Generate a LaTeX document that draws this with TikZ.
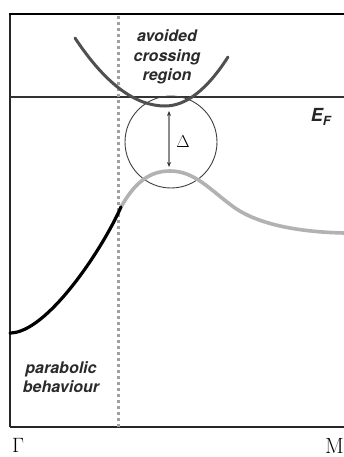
\documentclass[tikz,border=0pt]{standalone}
\usepackage{fontspec}
\setsansfont{TeX Gyre Heros}
\usetikzlibrary{arrows.meta}
\definecolor{darkband}{HTML}{505050}
\definecolor{lightband}{HTML}{B2B2B2}
\definecolor{dotgray}{HTML}{A0A0A0}
\definecolor{labelgray}{HTML}{2A2A2A}
\tikzset{
  frameline/.style={draw=black!85, line width=1.3pt},
  bandup/.style={draw=darkband, line width=3pt, line cap=round},
  banddown/.style={draw=lightband, line width=3.6pt, line cap=round},
  bandpara/.style={draw=black, line width=3.2pt, line cap=round},
  dotline/.style={draw=dotgray, line width=3pt, dash pattern=on 3pt off 3pt},
  lbl/.style={font=\sffamily\bfseries\itshape\fontsize{16}{19.5}\selectfont, text=labelgray, align=center, inner sep=0pt},
  symb/.style={font=\fontsize{22}{22}\selectfont, inner sep=0pt}
}
\begin{document}
\begin{tikzpicture}[x=1pt,y=-1pt]
\useasboundingbox (0,0) rectangle (344,457);
\fill[white] (0,0) rectangle (344,457);
% named coordinates
\coordinate (tl) at (10,14);
\coordinate (tr) at (344,14);
\coordinate (bl) at (10,427);
\coordinate (br) at (344,427);
\coordinate (efl) at (10,97);
\coordinate (efr) at (344,97);
\coordinate (dtop) at (118,16);
\coordinate (dbot) at (118,427);
\coordinate (upA) at (75,38);
\coordinate (upV) at (165,106);
\coordinate (upB) at (228,57);
\coordinate (gam0) at (10,333);
\coordinate (join) at (121,207);
\coordinate (peak) at (170,171);
\coordinate (mid) at (235,208);
\coordinate (endr) at (344,233);
\coordinate (arrT) at (169,111);
\coordinate (arrB) at (169,167);
% frame
\draw[frameline] (bl) -- (tl);
\draw[frameline] (bl) -- (br);
\draw[draw=black, line width=2.8pt] ([xshift=-0.65pt]tl) -- (tr);
\draw[draw=black!80, line width=1.2pt] (efl) -- (efr);
% dotted divider
\draw[dotline] (dtop) -- (dbot);
% circle
\node[draw=black!75, line width=0.9pt, circle, minimum size=92pt, inner sep=0pt] (zone) at (171,142) {};
% bands
\draw[bandup] (upA) .. controls (105,83.3) and (135,106) .. (upV)
   .. controls (186,106) and (207,89.7) .. (upB);
\draw[banddown] (join) .. controls (135,182) and (150,171) .. (peak)
   .. controls (195,171) and (210,190) .. (mid)
   .. controls (260,225) and (300,232) .. (endr);
\draw[bandpara] (gam0) .. controls (47,333) and (102.5,249) .. (join);
% gap arrow
\draw[draw=black!45, line width=1.5pt, {Stealth[length=5pt,width=4pt,color=black!80]}-{Stealth[length=5pt,width=4pt,color=black!80]}] (arrT) -- (arrB);
\node[font=\fontsize{19}{19}\selectfont, inner sep=0pt] (gap) at (183,142) {$\Delta$};
% labels
\node[lbl] (avoided) at (167,57) {avoided\\crossing\\region};
\node[lbl] (parab) at (61,377) {parabolic\\behaviour};
\node[font=\sffamily\bfseries\itshape\fontsize{18}{18}\selectfont, inner sep=0pt, text=black!85] (ef) at (321,117) {E\textsubscript{F}};
\node[symb, anchor=north west] (gamma) at (12,438) {$\Gamma$};
\node[symb, anchor=north east] (mpt) at (344,438) {M};
\end{tikzpicture}
\end{document}
